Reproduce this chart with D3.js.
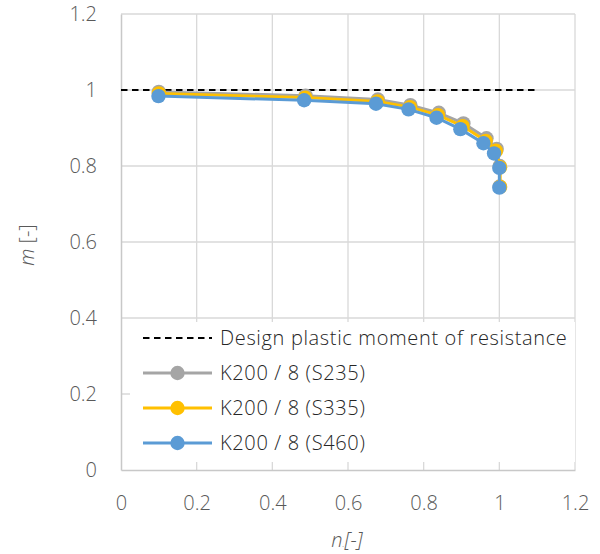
<!DOCTYPE html>
<html>
<head>
<meta charset="utf-8">
<script src="https://cdn.jsdelivr.net/npm/d3@7"></script>
<style>
  html, body { margin: 0; padding: 0; background: #fff; }
  svg { display: block; }
  text { font-family: "Open Sans", sans-serif; font-weight: 300; }
</style>
</head>
<body>
<svg id="chart" width="600" height="554"></svg>
<script>
// Interaction curves: normalised axial force n vs. normalised bending moment m
const nS235 = [0.100, 0.488, 0.679, 0.765, 0.840, 0.905, 0.966, 0.993, 1.001, 1.001];
const mS235 = [0.995, 0.985, 0.975, 0.960, 0.940, 0.912, 0.873, 0.845, 0.800, 0.746];
const nS335 = [0.100, 0.487, 0.678, 0.764, 0.838, 0.903, 0.964, 0.991, 1.002, 1.002];
const mS335 = [0.991, 0.980, 0.970, 0.955, 0.934, 0.905, 0.866, 0.840, 0.797, 0.745];
const nS460 = [0.099, 0.484, 0.674, 0.760, 0.834, 0.897, 0.958, 0.986, 1.000, 1.000];
const mS460 = [0.984, 0.973, 0.964, 0.949, 0.927, 0.897, 0.860, 0.833, 0.795, 0.743];

// Design plastic moment of resistance (m = 1)
const designN = [0, 1.1];
const designM = [1, 1];

const xTicks = [0, 0.2, 0.4, 0.6, 0.8, 1, 1.2];
const yTicks = [0, 0.2, 0.4, 0.6, 0.8, 1, 1.2];

const seriesNames = ["K200 / 8 (S235)", "K200 / 8 (S335)", "K200 / 8 (S460)"];
const seriesColors = ["#a5a5a5", "#ffc000", "#5b9bd5"];
const seriesN = [nS235, nS335, nS460];
const seriesM = [mS235, mS335, mS460];

const svg = d3.select("#chart");
const plotL = 121, plotR = 575, plotT = 14, plotB = 470;

const x = d3.scaleLinear().domain([0, 1.2]).range([plotL, plotR]);
const y = d3.scaleLinear().domain([0, 1.2]).range([plotB, plotT]);

// gridlines
const grid = svg.append("g");
grid.selectAll("line.v").data(xTicks.slice(1)).join("line")
  .attr("class", "v")
  .attr("x1", d => x(d)).attr("x2", d => x(d))
  .attr("y1", plotT).attr("y2", plotB)
  .attr("stroke", "#d9d9d9").attr("stroke-width", 1.3);
grid.selectAll("line.h").data(yTicks.slice(1)).join("line")
  .attr("class", "h")
  .attr("x1", plotL).attr("x2", plotR)
  .attr("y1", d => y(d)).attr("y2", d => y(d))
  .attr("stroke", "#d9d9d9").attr("stroke-width", 1.3);

// axes
const xAxis = d3.axisBottom(x).tickValues(xTicks).tickSize(0).tickPadding(26)
  .tickFormat(d3.format("~g"));
const yAxis = d3.axisLeft(y).tickValues(yTicks).tickSize(0).tickPadding(24)
  .tickFormat(d3.format("~g"));

const gx = svg.append("g").attr("transform", `translate(0,${plotB})`).call(xAxis);
const gy = svg.append("g").attr("transform", `translate(${plotL},0)`).call(yAxis);
[gx, gy].forEach(g => {
  g.select(".domain").attr("stroke", "#c8c8c8").attr("stroke-width", 1.5);
  g.selectAll(".tick text").attr("fill", "#595959")
    .style("font-size", "20px").style("font-family", "'Open Sans', sans-serif")
    .style("font-weight", 300);
});

// design line
const line = d3.line().x(d => x(d[0])).y(d => y(d[1]));
svg.append("path")
  .datum(designN.map((n, i) => [n, designM[i]]))
  .attr("d", line)
  .attr("fill", "none").attr("stroke", "#000")
  .attr("stroke-width", 2.2).attr("stroke-dasharray", "6.5,4.5");

// series
seriesNames.forEach((name, i) => {
  const pts = seriesN[i].map((n, j) => [n, seriesM[i][j]]);
  const g = svg.append("g");
  g.append("path").datum(pts).attr("d", line)
    .attr("fill", "none").attr("stroke", seriesColors[i]).attr("stroke-width", 3);
  g.selectAll("circle").data(pts).join("circle")
    .attr("cx", d => x(d[0])).attr("cy", d => y(d[1])).attr("r", 7.2)
    .attr("fill", seriesColors[i]);
});

// legend
const lg = svg.append("g");
lg.append("rect").attr("x", 130).attr("y", 322).attr("width", 445).attr("height", 140)
  .attr("fill", "#fff");
const rowY = [338, 373, 408, 443];
const sx1 = 143, sx2 = 212, tx = 220;
lg.append("line").attr("x1", sx1).attr("x2", sx2).attr("y1", rowY[0]).attr("y2", rowY[0])
  .attr("stroke", "#000").attr("stroke-width", 2.2).attr("stroke-dasharray", "6.5,4.5");
lg.append("text").attr("x", tx).attr("y", rowY[0]).attr("dy", "0.35em")
  .attr("fill", "#262626").style("font-size", "20px").style("letter-spacing", "0.65px")
  .text("Design plastic moment of resistance");
seriesNames.forEach((name, i) => {
  const yy = rowY[i + 1];
  lg.append("line").attr("x1", sx1).attr("x2", sx2).attr("y1", yy).attr("y2", yy)
    .attr("stroke", seriesColors[i]).attr("stroke-width", 3);
  lg.append("circle").attr("cx", (sx1 + sx2) / 2).attr("cy", yy).attr("r", 7.2)
    .attr("fill", seriesColors[i]);
  lg.append("text").attr("x", tx).attr("y", yy).attr("dy", "0.35em")
    .attr("fill", "#262626").style("font-size", "20px").style("letter-spacing", "0.65px")
    .text(name);
});

// axis titles
svg.append("text").attr("transform", "translate(34,245) rotate(-90)")
  .attr("text-anchor", "middle").attr("fill", "#595959").style("font-size", "20px")
  .call(t => {
    t.append("tspan").style("font-style", "italic").text("m");
    t.append("tspan").text(" [-]");
  });
svg.append("text").attr("x", 347).attr("y", 547)
  .attr("text-anchor", "middle").attr("fill", "#595959").style("font-size", "20px")
  .style("font-style", "italic")
  .call(t => {
    t.append("tspan").text("n");
    t.append("tspan").style("font-size", "9px").text(".");
    t.append("tspan").text("[-]");
  });
</script>
</body>
</html>
